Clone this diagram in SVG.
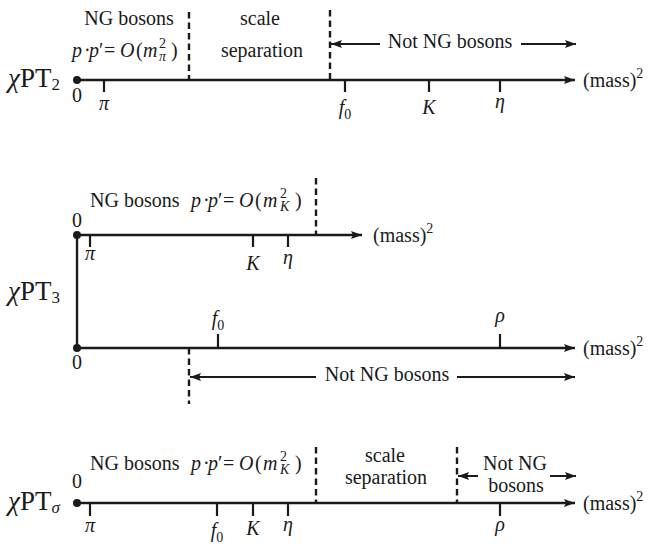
<svg xmlns="http://www.w3.org/2000/svg" width="648" height="544" viewBox="0 0 648 544">
<style>
  text { font-family: 'Liberation Serif', 'DejaVu Serif', serif; font-size: 20px; fill: #1a1a1a; }
  .big { font-size: 27px; }
  .it { font-style: italic; }
  .mid { text-anchor: middle; }
  .axis { stroke: #1a1a1a; stroke-width: 2.4; fill: none; }
  .tick { stroke: #1a1a1a; stroke-width: 2.2; }
  .dash { stroke: #1a1a1a; stroke-width: 2.4; stroke-dasharray: 6.5 4; }
  .arr { stroke: #1a1a1a; stroke-width: 2; fill: none; }
  .dot { fill: #1a1a1a; }
</style>
<defs>
  <marker id="ah" markerUnits="userSpaceOnUse" markerWidth="12" markerHeight="9" refX="11" refY="4" orient="auto">
    <path d="M0,0 L11,4 L0,8 L2,4 z" fill="#1a1a1a"/>
  </marker>
</defs>

<g id="connectors">
  <line class="axis" x1="77" y1="80" x2="575" y2="80" marker-end="url(#ah)"/>
  <line class="axis" x1="77" y1="235" x2="362" y2="235" marker-end="url(#ah)"/>
  <line class="axis" x1="77" y1="235" x2="77" y2="348"/>
  <line class="axis" x1="77" y1="348" x2="575" y2="348" marker-end="url(#ah)"/>
  <line class="axis" x1="77" y1="503" x2="575" y2="503" marker-end="url(#ah)"/>
  <line class="arr" x1="380" y1="44" x2="331" y2="44" marker-end="url(#ah)"/>
  <line class="arr" x1="521" y1="44" x2="576" y2="44" marker-end="url(#ah)"/>
  <line class="arr" x1="316" y1="377" x2="190" y2="377" marker-end="url(#ah)"/>
  <line class="arr" x1="457" y1="377" x2="575" y2="377" marker-end="url(#ah)"/>
  <line class="arr" x1="478" y1="476" x2="458" y2="476" marker-end="url(#ah)"/>
  <line class="arr" x1="550" y1="476" x2="576" y2="476" marker-end="url(#ah)"/>
  <line class="dash" x1="189" y1="12" x2="189" y2="80"/>
  <line class="dash" x1="330" y1="10" x2="330" y2="80"/>
  <line class="dash" x1="316" y1="178" x2="316" y2="235"/>
  <line class="dash" x1="189" y1="348" x2="189" y2="404"/>
  <line class="dash" x1="316" y1="447" x2="316" y2="503"/>
  <line class="dash" x1="457" y1="447" x2="457" y2="503"/>
</g>

<g id="chipt2">
  <circle class="dot" cx="77" cy="80" r="4"/>
  <line class="tick" x1="104" y1="80" x2="104" y2="92"/>
  <line class="tick" x1="345" y1="80" x2="345" y2="92"/>
  <line class="tick" x1="429" y1="80" x2="429" y2="92"/>
  <line class="tick" x1="500" y1="80" x2="500" y2="92"/>
  <text class="big" x="8" y="87"><tspan class="it">χ</tspan>PT<tspan font-size="17" dy="3">2</tspan></text>
  <text class="mid" x="77" y="102">0</text>
  <text class="mid it" x="104" y="110">π</text>
  <text class="mid" x="345" y="114"><tspan class="it">f</tspan><tspan font-size="14" dy="5">0</tspan></text>
  <text class="mid it" x="429" y="114">K</text>
  <text class="mid it" x="500" y="108">η</text>
  <text x="583" y="87">(mass)<tspan font-size="14" dy="-9">2</tspan></text>
  <text class="mid" x="129" y="25">NG bosons</text>
  <text y="57"><tspan class="it" x="72">p</tspan><tspan x="84">·</tspan><tspan class="it" x="89">p</tspan><tspan x="99">′</tspan><tspan x="104">=</tspan><tspan class="it" x="120">O</tspan><tspan x="136">(</tspan><tspan class="it" x="143">m</tspan><tspan font-size="14" x="159" y="48">2</tspan><tspan class="it" font-size="14" x="159" y="61">π</tspan><tspan x="171" y="57">)</tspan></text>
  <text class="mid" x="260" y="25">scale</text>
  <text class="mid" x="262" y="57">separation</text>
  <text class="mid" x="450" y="48">Not NG bosons</text>
</g>

<g id="chipt3">
  <circle class="dot" cx="77" cy="235" r="4"/>
  <circle class="dot" cx="77" cy="348" r="4"/>
  <line class="tick" x1="90" y1="235" x2="90" y2="247"/>
  <line class="tick" x1="253" y1="235" x2="253" y2="247"/>
  <line class="tick" x1="288" y1="235" x2="288" y2="247"/>
  <line class="tick" x1="218" y1="348" x2="218" y2="334"/>
  <line class="tick" x1="500" y1="348" x2="500" y2="334"/>
  <text class="big" x="8" y="300"><tspan class="it">χ</tspan>PT<tspan font-size="17" dy="3">3</tspan></text>
  <text class="mid" x="77" y="227">0</text>
  <text class="mid" x="77" y="369">0</text>
  <text class="mid it" x="90" y="260">π</text>
  <text class="mid it" x="253" y="270">K</text>
  <text class="mid it" x="288" y="264">η</text>
  <text x="373" y="242">(mass)<tspan font-size="14" dy="-9">2</tspan></text>
  <text x="90" y="207">NG bosons</text>
  <text y="207"><tspan class="it" x="191">p</tspan><tspan x="203">·</tspan><tspan class="it" x="208">p</tspan><tspan x="218">′</tspan><tspan x="223">=</tspan><tspan class="it" x="239">O</tspan><tspan x="255">(</tspan><tspan class="it" x="263">m</tspan><tspan font-size="14" x="280" y="198">2</tspan><tspan class="it" font-size="14" x="280" y="211">K</tspan><tspan x="295" y="207">)</tspan></text>
  <text class="mid" x="218" y="325"><tspan class="it">f</tspan><tspan font-size="14" dy="5">0</tspan></text>
  <text class="mid it" x="500" y="322">ρ</text>
  <text x="583" y="355">(mass)<tspan font-size="14" dy="-9">2</tspan></text>
  <text class="mid" x="387" y="381">Not NG bosons</text>
</g>

<g id="chiptsigma">
  <circle class="dot" cx="77" cy="503" r="4"/>
  <line class="tick" x1="90" y1="503" x2="90" y2="516"/>
  <line class="tick" x1="217" y1="503" x2="217" y2="516"/>
  <line class="tick" x1="253" y1="503" x2="253" y2="516"/>
  <line class="tick" x1="288" y1="503" x2="288" y2="516"/>
  <line class="tick" x1="500" y1="503" x2="500" y2="516"/>
  <text class="big" x="8" y="510"><tspan class="it">χ</tspan>PT<tspan class="it" font-size="17" dy="3">σ</tspan></text>
  <text class="mid" x="77" y="488">0</text>
  <text class="mid it" x="90" y="532">π</text>
  <text class="mid" x="217" y="537"><tspan class="it">f</tspan><tspan font-size="14" dy="5">0</tspan></text>
  <text class="mid it" x="253" y="535">K</text>
  <text class="mid it" x="288" y="531">η</text>
  <text class="mid it" x="500" y="531">ρ</text>
  <text x="583" y="510">(mass)<tspan font-size="14" dy="-9">2</tspan></text>
  <text x="90" y="470">NG bosons</text>
  <text y="470"><tspan class="it" x="191">p</tspan><tspan x="203">·</tspan><tspan class="it" x="208">p</tspan><tspan x="218">′</tspan><tspan x="223">=</tspan><tspan class="it" x="239">O</tspan><tspan x="255">(</tspan><tspan class="it" x="263">m</tspan><tspan font-size="14" x="280" y="461">2</tspan><tspan class="it" font-size="14" x="280" y="474">K</tspan><tspan x="295" y="470">)</tspan></text>
  <text class="mid" x="385" y="462">scale</text>
  <text class="mid" x="386" y="484">separation</text>
  <text class="mid" x="515" y="470">Not NG</text>
  <text class="mid" x="516" y="492">bosons</text>
</g>
</svg>
